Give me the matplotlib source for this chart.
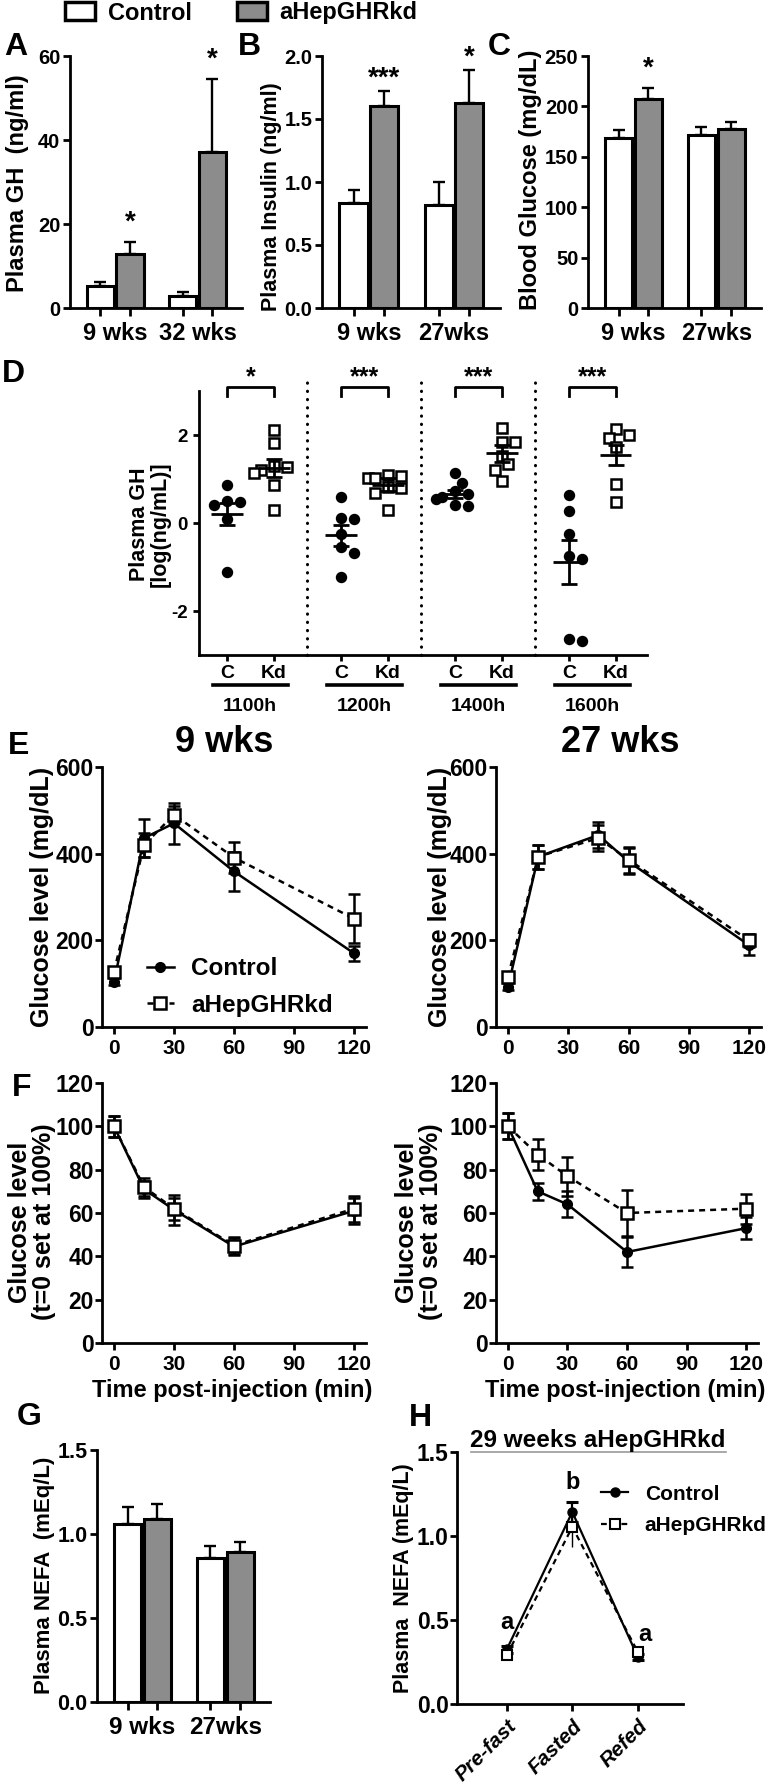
import matplotlib
matplotlib.use("Agg")
import numpy as np
import matplotlib.pyplot as plt
from matplotlib.patches import Patch
from matplotlib.lines import Line2D
from matplotlib.ticker import FormatStrFormatter

W, H = 776, 1786
GREY = "#8c8c8c"

plt.rcParams["font.family"] = ["Liberation Sans", "DejaVu Sans"]
plt.rcParams["font.weight"] = "bold"
plt.rcParams["axes.unicode_minus"] = False

# ---------------- data ----------------
# A - plasma GH
groups_a = ["9 wks", "32 wks"]
gh_ctrl = [5.2, 2.9]
gh_ctrl_err = [1.0, 0.9]
gh_kd = [12.9, 37.1]
gh_kd_err = [2.8, 17.4]
stars_a = ["*", "*"]

# B - plasma insulin
groups_b = ["9 wks", "27wks"]
ins_ctrl = [0.83, 0.82]
ins_ctrl_err = [0.11, 0.18]
ins_kd = [1.60, 1.63]
ins_kd_err = [0.12, 0.26]
stars_b = ["***", "*"]

# C - blood glucose
groups_c = ["9 wks", "27wks"]
glu_ctrl = [169, 172]
glu_ctrl_err = [8, 8]
glu_kd = [207, 178]
glu_kd_err = [11, 7]
stars_c = ["*", ""]

# D - GH pulses, log scale
d_times = ["1100h", "1200h", "1400h", "1600h"]
d_ctrl = [[0.87, 0.50, 0.48, 0.42, 0.10, -1.11],
          [0.60, 0.11, 0.08, -0.26, -0.54, -0.68, -1.23],
          [1.13, 0.92, 0.72, 0.65, 0.60, 0.55, 0.42, 0.38],
          [0.63, 0.28, -0.24, -0.76, -0.82, -2.64, -2.69]]
d_kd = [[2.11, 1.81, 1.29, 1.28, 1.20, 1.13, 0.87, 0.29],
        [1.09, 1.06, 1.02, 1.02, 0.82, 0.79, 0.68, 0.29],
        [2.15, 1.83, 1.83, 1.52, 1.33, 1.20, 0.95],
        [2.14, 2.00, 1.93, 1.72, 0.89, 0.48]]
d_ctrl_mean = [0.21, -0.28, 0.66, -0.89]
d_ctrl_sem = [0.25, 0.24, 0.09, 0.50]
d_kd_mean = [1.25, 0.87, 1.58, 1.55]
d_kd_sem = [0.20, 0.15, 0.19, 0.23]
d_stars = ["*", "***", "***", "***"]

# E - GTT
gtt_t9 = [0, 15, 30, 60, 120]
e9_ctrl = [104, 436, 470, 359, 170]
e9_ctrl_err = [8, 44, 47, 45, 18]
e9_kd = [127, 420, 490, 391, 250]
e9_kd_err = [10, 27, 20, 35, 57]
gtt_t27 = [0, 15, 45, 60, 120]
e27_ctrl = [93, 393, 443, 382, 189]
e27_ctrl_err = [8, 28, 30, 30, 22]
e27_kd = [116, 393, 436, 386, 200]
e27_kd_err = [8, 28, 30, 30, 15]

# F - ITT
itt_t = [0, 15, 30, 60, 120]
f9_ctrl = [100, 71, 61.5, 44.5, 61]
f9_ctrl_err = [5, 4, 7, 4, 6]
f9_kd = [100, 72, 62, 45, 62]
f9_kd_err = [5, 4, 5, 4, 6]
f27_ctrl = [100, 70, 64, 42, 53]
f27_ctrl_err = [6, 4, 6, 7, 5]
f27_kd = [100, 87, 77, 60, 62]
f27_kd_err = [6, 7, 9, 10.5, 7]

# G - NEFA bars
groups_g = ["9 wks", "27wks"]
nefa_ctrl = [1.06, 0.855]
nefa_ctrl_err = [0.10, 0.075]
nefa_kd = [1.09, 0.89]
nefa_kd_err = [0.09, 0.06]

# H - NEFA fasting
fast_states = ["Pre-fast", "Fasted", "Refed"]
h_ctrl = [0.325, 1.143, 0.28]
h_ctrl_err = [0.02, 0.06, 0.02]
h_kd = [0.29, 1.054, 0.31]
h_kd_err = [0.02, 0.12, 0.03]
h_letters = ["a", "b", "a"]

# ---------------- helpers ----------------
fig = plt.figure(figsize=(W / 100, H / 100), dpi=100)


def add_ax(l, t, r, b):
    return fig.add_axes([l / W, 1 - b / H, (r - l) / W, (b - t) / H])


def ftext(x, y, s, **kw):
    kw.setdefault("ha", "center")
    kw.setdefault("va", "center")
    fig.text(x / W, 1 - y / H, s, **kw)


def style(ax, lw=2.0, tlen=5):
    for s in ["top", "right"]:
        ax.spines[s].set_visible(False)
    for s in ["left", "bottom"]:
        ax.spines[s].set_linewidth(lw)
    ax.tick_params(width=lw, length=tlen, color="black")


def bars(ax, groups, ctrl, ctrl_err, kd, kd_err, ylim, yticks, stars=None,
         star_pad=14, fmt=None, ysize=14.5, xsize=17):
    g = np.arange(len(groups))
    off = 0.18
    bc = ax.bar(g - off, ctrl, 0.33, color="white", edgecolor="black", linewidth=2.2,
                yerr=[np.zeros(len(g)), ctrl_err], capsize=4.5,
                error_kw=dict(elinewidth=1.7, capthick=1.7, ecolor="black"))
    bk = ax.bar(g + off, kd, 0.33, color=GREY, edgecolor="black", linewidth=2.2,
                yerr=[np.zeros(len(g)), kd_err], capsize=4.5,
                error_kw=dict(elinewidth=1.7, capthick=1.7, ecolor="black"))
    ax.set_xlim(-0.55, 1.54)
    ax.set_ylim(*ylim)
    ax.set_yticks(yticks)
    if fmt:
        ax.yaxis.set_major_formatter(FormatStrFormatter(fmt))
    ax.set_xticks(np.concatenate([g - off, g + off]))
    ax.set_xticklabels([])
    ax.set_xticks(g, groups, minor=True)
    style(ax)
    ax.tick_params(axis="x", which="major", length=6)
    ax.tick_params(axis="x", which="minor", length=0, pad=10, labelsize=xsize)
    ax.tick_params(axis="y", labelsize=ysize, pad=2)
    if stars:
        for xi, v, e, s in zip(g + off, kd, kd_err, stars):
            if s:
                ax.annotate(s, (xi, v + e), xytext=(0, star_pad), textcoords="offset points",
                            ha="center", va="center", fontsize=20, annotation_clip=False)
    return bc, bk


def swarm(vals, xc, sx, sy, diam=10.5):
    # simple deterministic beeswarm in pixel space
    order = np.argsort(vals)[::-1]
    placed = []
    xs = np.zeros(len(vals))
    for i in order:
        y = vals[i] * sy
        for k in [0, 1, -1, 2, -2, 3, -3]:
            x = k * diam * 0.62
            if all((x - px) ** 2 + (y - py) ** 2 >= (diam * 0.9) ** 2 for px, py in placed):
                break
        placed.append((x, y))
        xs[i] = xc + x / sx
    return xs


def lines(ax, t, c, ce, k, ke, ylim, yticks, ms_c=7, ms_k=9, lw=1.8):
    ax.errorbar(t, c, yerr=ce, fmt="-o", color="black", ms=ms_c, lw=lw,
                elinewidth=lw, capsize=4, capthick=lw, zorder=3)
    ax.errorbar(t, k, yerr=ke, fmt="--s", color="black", mfc="white", mec="black",
                mew=1.8, ms=ms_k, lw=lw, dashes=(2.4, 2.0), elinewidth=lw,
                capsize=4, capthick=lw, zorder=4)
    ax.set_xlim(-6, 126)
    ax.set_xticks([0, 30, 60, 90, 120])
    ax.set_ylim(*ylim)
    ax.set_yticks(yticks)
    style(ax)
    ax.tick_params(axis="x", labelsize=15, pad=4)
    ax.tick_params(axis="y", labelsize=16.5, pad=1)


# ---------------- A, B, C ----------------
axA = add_ax(70, 56, 242, 308)
bc, bk = bars(axA, groups_a, gh_ctrl, gh_ctrl_err, gh_kd, gh_kd_err, (0, 60),
              [0, 20, 40, 60], stars_a, star_pad=14)
axB = add_ax(322, 56, 500, 308)
bars(axB, groups_b, ins_ctrl, ins_ctrl_err, ins_kd, ins_kd_err, (0, 2.0),
     [0, 0.5, 1.0, 1.5, 2.0], stars_b, star_pad=9, fmt="%.1f")
axC = add_ax(588, 56, 761, 308)
bars(axC, groups_c, glu_ctrl, glu_ctrl_err, glu_kd, glu_kd_err, (0, 250),
     [0, 50, 100, 150, 200, 250], stars_c, star_pad=14)

ftext(18, 183, "Plasma GH  (ng/ml)", rotation=90, fontsize=17)
ftext(272, 197, "Plasma Insulin (ng/ml)", rotation=90, fontsize=15.5)
ftext(530, 180, "Blood Glucose (mg/dL)", rotation=90, fontsize=17)

leg = fig.legend([Patch(facecolor="white", edgecolor="black", linewidth=2.5),
                  Patch(facecolor=GREY, edgecolor="black", linewidth=2.5)],
                 ["Control", "aHepGHRkd"], loc="center left",
                 bbox_to_anchor=(65 / W, 1 - 13 / H), ncol=2, frameon=False,
                 fontsize=17, handlelength=1.27, handleheight=0.8,
                 handletextpad=0.55, columnspacing=1.9, borderpad=0, borderaxespad=0)

# ---------------- D ----------------
axD = add_ax(199, 391, 647, 655)
sx, sy = 114.0, 44.0
dpos = np.arange(len(d_times))
for gi in range(len(d_times)):
    xc, xk = dpos[gi] - 0.204, dpos[gi] + 0.204
    axD.plot(swarm(d_ctrl[gi], xc, sx, sy), d_ctrl[gi], "o", color="black", ms=7.2,
             ls="none", zorder=3)
    axD.plot(swarm(d_kd[gi], xk, sx, sy), d_kd[gi], "s", mfc="white", mec="black",
             mew=1.8, ms=7.2, ls="none", zorder=3)
    for x0, m, s in [(xc, d_ctrl_mean[gi], d_ctrl_sem[gi]), (xk, d_kd_mean[gi], d_kd_sem[gi])]:
        axD.hlines(m, x0 - 0.14, x0 + 0.14, color="black", lw=2.0, zorder=4)
        axD.errorbar(x0, m, yerr=s, fmt="none", ecolor="black", elinewidth=2.0,
                     capsize=5.5, capthick=2.0, zorder=4)
    # significance bracket
    axD.plot([xc, xc, xk, xk], [2.88, 3.08, 3.08, 2.88], color="black", lw=2.0,
             clip_on=False)
    axD.text(dpos[gi], 3.32, d_stars[gi], ha="center", va="center", fontsize=18)
    # group underline + label
    tr = axD.get_xaxis_transform()
    axD.plot([dpos[gi] - 0.33, dpos[gi] + 0.33], [-0.114, -0.114], color="black", lw=2.6,
             transform=tr, clip_on=False)
    axD.text(dpos[gi], -0.195, d_times[gi], ha="center", va="center", fontsize=14,
             transform=tr)
for xs in dpos[:-1] + 0.5:
    axD.axvline(xs, 0, 1.034, color="black", lw=2.2, ls=(0, (0.1, 2.6)),
                dash_capstyle="round", clip_on=False)
axD.set_xlim(-0.45, 3.48)
axD.set_ylim(-3, 3)
axD.set_yticks([-2, 0, 2])
axD.set_xticks(np.concatenate([dpos - 0.204, dpos + 0.204]),
               ["C"] * len(dpos) + ["Kd"] * len(dpos))
style(axD, lw=2.0, tlen=4)
axD.tick_params(axis="x", labelsize=14, pad=3)
axD.tick_params(axis="y", labelsize=13.5, pad=4)
ftext(150, 524, "Plasma GH\n[log(ng/mL)]", rotation=90, fontsize=15.5, linespacing=1.0)

# ---------------- E ----------------
axE1 = add_ax(102, 767, 366, 1027)
lines(axE1, gtt_t9, e9_ctrl, e9_ctrl_err, e9_kd, e9_kd_err, (0, 600), [0, 200, 400, 600])
axE2 = add_ax(496, 767, 761, 1027)
lines(axE2, gtt_t27, e27_ctrl, e27_ctrl_err, e27_kd, e27_kd_err, (0, 600), [0, 200, 400, 600])
ftext(224, 743, "9 wks", fontsize=26)
ftext(620, 743, "27 wks", fontsize=26)
ftext(42, 897, "Glucose level (mg/dL)", rotation=90, fontsize=18)
ftext(440, 897, "Glucose level (mg/dL)", rotation=90, fontsize=18)
h_c = Line2D([], [], color="black", marker="o", ms=7, lw=1.8)
h_k = Line2D([], [], color="black", marker="s", mfc="white", mew=1.8, ms=9, lw=1.8,
             ls="--", dashes=(2.4, 2.0))
fig.legend([h_c, h_k], ["Control", "aHepGHRkd"], loc="center left",
           bbox_to_anchor=(147 / W, 1 - 987 / H), frameon=False, fontsize=17.5,
           handlelength=1.1, handletextpad=0.7, labelspacing=0.55, borderpad=0,
           borderaxespad=0, numpoints=1)

# ---------------- F ----------------
axF1 = add_ax(102, 1083, 366, 1343)
lines(axF1, itt_t, f9_ctrl, f9_ctrl_err, f9_kd, f9_kd_err, (0, 120), [0, 20, 40, 60, 80, 100, 120])
axF2 = add_ax(496, 1083, 758, 1343)
lines(axF2, itt_t, f27_ctrl, f27_ctrl_err, f27_kd, f27_kd_err, (0, 120), [0, 20, 40, 60, 80, 100, 120])
ftext(32, 1222, "Glucose level\n(t=0 set at 100%)", rotation=90, fontsize=18, linespacing=0.95)
ftext(419, 1222, "Glucose level\n(t=0 set at 100%)", rotation=90, fontsize=18, linespacing=0.95)
ftext(232, 1390, "Time post-injection (min)", fontsize=17)
ftext(625, 1390, "Time post-injection (min)", fontsize=17)

# ---------------- G ----------------
axG = add_ax(97, 1450, 270, 1702)
bars(axG, groups_g, nefa_ctrl, nefa_ctrl_err, nefa_kd, nefa_kd_err, (0, 1.5),
     [0, 0.5, 1.0, 1.5], fmt="%.1f", ysize=15.5, xsize=17.5)
ftext(45, 1575, "Plasma NEFA  (mEq/L)", rotation=90, fontsize=16)

# ---------------- H ----------------
axH = add_ax(457, 1452, 683, 1704)
hx = np.arange(len(fast_states))
axH.errorbar(hx, h_ctrl, yerr=h_ctrl_err, fmt="-o", color="black", ms=6.5, lw=1.6,
             elinewidth=1.6, capsize=4, capthick=2.2, zorder=3)
axH.errorbar(hx, h_kd, yerr=h_kd_err, fmt="--s", color="black", mfc="white", mec="black",
             mew=1.5, ms=7.5, lw=1.6, dashes=(2.6, 2.0), elinewidth=1.0, capsize=0,
             zorder=4)
for xi, s, yv, dx, dy in zip(hx, h_letters,
                             np.maximum(np.add(h_ctrl, h_ctrl_err), np.add(h_kd, h_kd_err)),
                             [0, 0, 5], [17, 14, 9]):
    axH.annotate(s, (xi, yv), xytext=(dx, dy), textcoords="offset points",
                 ha="center", va="center", fontsize=17)
axH.set_xlim(-0.76, 2.69)
axH.set_ylim(0, 1.5)
axH.set_yticks([0, 0.5, 1.0, 1.5])
axH.yaxis.set_major_formatter(FormatStrFormatter("%.1f"))
axH.set_xticks(hx)
axH.set_xticklabels(fast_states, rotation=45, ha="right", va="top",
                    rotation_mode="anchor", fontstyle="italic")
style(axH)
axH.tick_params(axis="x", labelsize=15, pad=4)
axH.tick_params(axis="y", labelsize=16.5, pad=1)
axH.plot([0.062, 1.19], [1.0, 1.0], transform=axH.transAxes, color="#999999", lw=1.2,
         clip_on=False)
ftext(598, 1441, "29 weeks aHepGHRkd", fontsize=17.5)
ftext(403, 1578, "Plasma  NEFA (mEq/L)", rotation=90, fontsize=15.5)
fig.legend([Line2D([], [], color="black", marker="o", ms=6.5, lw=1.6),
            Line2D([], [], color="black", marker="s", mfc="white", mew=1.5, ms=7.5, lw=1.6,
                   ls="--", dashes=(2.6, 2.0))],
           ["Control", "aHepGHRkd"], loc="center left",
           bbox_to_anchor=(601 / W, 1 - 1510 / H), frameon=False, fontsize=15,
           handlelength=1.3, handletextpad=0.8, labelspacing=0.6, borderpad=0,
           borderaxespad=0, numpoints=1)

# ---------------- panel letters ----------------
for lab, x, y in [("A", 16, 47), ("B", 249, 47), ("C", 499, 47), ("D", 13, 374),
                  ("E", 19, 746), ("F", 22, 1088), ("G", 29, 1417), ("H", 420, 1418)]:
    ftext(x, y, lab, fontsize=23)

fig.savefig("out.png", dpi=100)
